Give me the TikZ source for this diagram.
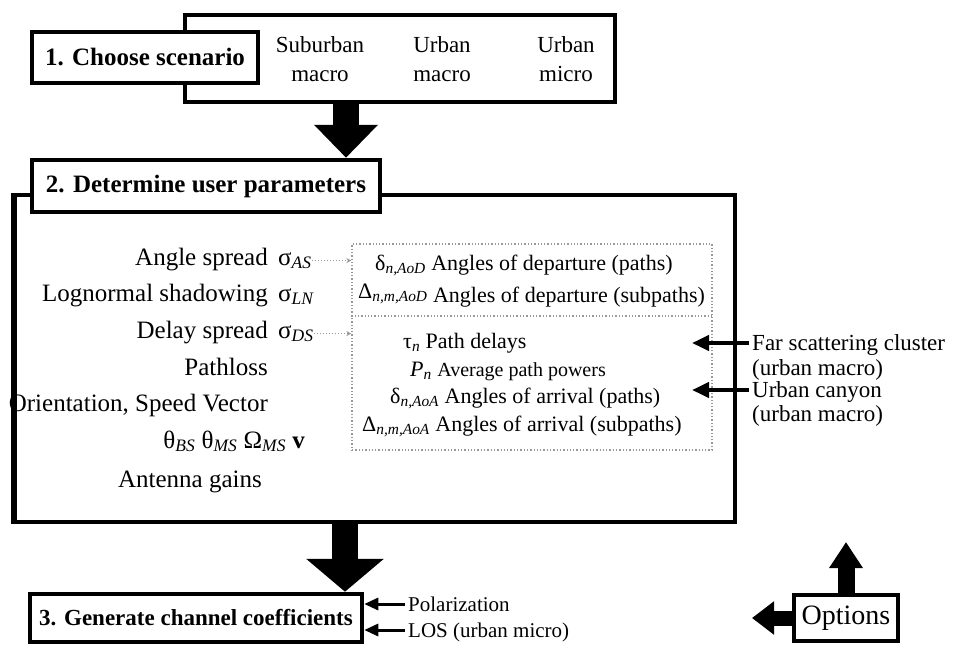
\documentclass[tikz,border=0pt]{standalone}
\usepackage{fontspec}
\setmainfont{Liberation Serif}
\usetikzlibrary{arrows.meta}
% italic subscript after an upright symbol
\newcommand{\lsub}[1]{\textsubscript{\itshape #1}}

\begin{document}
\begin{tikzpicture}[x=1pt,y=-1pt,
  frame/.style={draw, line width=4.5pt},
  tag/.style={draw, line width=4.5pt, fill=white, inner sep=0pt,
    font=\fontsize{25}{29}\selectfont\bfseries},
  txt/.style={inner sep=0pt, font=\fontsize{25}{30}\selectfont},
  scentxt/.style={inner sep=0pt, font=\fontsize{23}{29}\selectfont},
  rowtxt/.style={inner sep=0pt, font=\fontsize{22}{26}\selectfont},
  sidetxt/.style={inner sep=0pt, font=\fontsize{23}{25}\selectfont},
  foottxt/.style={inner sep=0pt, font=\fontsize{21}{24}\selectfont},
  guide/.style={draw=gray!80, dotted, line width=1.3pt},
  hint/.style={gray!80, dotted, line width=1pt, -{Stealth[length=5pt,width=5pt]}},
  sidearrow/.style={line width=4pt, -{Triangle[width=15pt,length=17pt]}},
  minorarrow/.style={line width=3pt, -{Triangle[width=12pt,length=14pt]}},
  bigdown/.style={line width=26pt, -{Triangle[width=62pt,length=33pt]}},
  bigdownwide/.style={line width=26pt, -{Triangle[width=76pt,length=33pt]}},
]
\useasboundingbox (0,0) rectangle (957,648);

% ---- step 1: scenario selection
\node[frame, minimum width=430pt, minimum height=87pt] (scen) at (400,58.5) {};
\node[tag, minimum width=226pt, minimum height=51pt] (s1) at (145,57.5) {1. Choose scenario};
\node[scentxt, align=center] (sub) at (320,59) {Suburban\\macro};
\node[scentxt, align=center] (umac) at (442,59) {Urban\\macro};
\node[scentxt, align=center] (umic) at (566,59) {Urban\\micro};

% ---- step 2: user parameters
\node[frame, minimum width=720pt, minimum height=327pt] (params) at (375,358.5) {};

\node[txt, anchor=base east] (angle) at (268,265) {Angle spread};
\node[txt, anchor=base east] (logn)  at (268,301) {Lognormal shadowing};
\node[txt, anchor=base east] (delay) at (268,338) {Delay spread};
\node[txt, anchor=base east] (ploss) at (268,375) {Pathloss};
\node[txt, anchor=base east] (orient) at (268,411) {Orientation, Speed Vector};
\node[txt, anchor=base east] (theta) at (305,448) {θ\lsub{BS} θ\lsub{MS} Ω\lsub{MS} \textbf{v}};
\node[txt, anchor=base east] (gains) at (262,487) {Antenna gains};

\node[txt, anchor=base west] (sAS) at (278,265) {σ\lsub{AS}};
\node[txt, anchor=base west] (sLN) at (278,301) {σ\lsub{LN}};
\node[txt, anchor=base west] (sDS) at (278,338) {σ\lsub{DS}};

% redraw left border over the clipped label
\draw[line width=4.5pt] (params.north west) -- (params.south west);

% derived large-scale quantities
\node[guide, minimum width=360pt, minimum height=206pt] (derived) at (532,347) {};
\coordinate (divide) at (0,316);
\draw[guide] (derived.west |- divide) -- (derived.east |- divide);

\node[rowtxt, anchor=base west] (aod)  at (375,270) {δ\lsub{n,AoD} Angles of departure (paths)};
\node[rowtxt, anchor=base west] (aods) at (358,298) {Δ\lsub{n,m,AoD} \raisebox{-4pt}{Angles of departure (subpaths)}};
\node[rowtxt, anchor=base west] (tau)  at (403,348) {τ\lsub{n} Path delays};
\node[rowtxt, anchor=base west] (pow)  at (410,376) {\textit{P}\lsub{n} {\fontsize{20}{24}\selectfont Average path powers}};
\node[rowtxt, anchor=base west] (aoa)  at (390,403) {δ\lsub{n,AoA} Angles of arrival (paths)};
\node[rowtxt, anchor=base west] (aoas) at (362,431) {Δ\lsub{n,m,AoA} Angles of arrival (subpaths)};

\draw[hint] (sAS.east) -- (derived.west |- sAS.east);
\draw[hint] (sDS.east) -- (derived.west |- sDS.east);

% tag drawn last so it covers the frame
\node[tag, minimum width=348pt, minimum height=52pt] (s2) at (206,186) {2. Determine user parameters};

% external effects on the derived quantities
\node[sidetxt, anchor=base west] (far)  at (752,350) {Far scattering cluster};
\node[sidetxt, anchor=base west] (farm) at (752,375) {(urban macro)};
\node[sidetxt, anchor=base west] (cany) at (752,397) {Urban canyon};
\node[sidetxt, anchor=base west] (canm) at (752,421) {(urban macro)};
\coordinate (farTip) at (692,343);
\coordinate (canTip) at (692,390);
\draw[sidearrow] ([xshift=-3pt]far.west |- farTip) -- (farTip);
\draw[sidearrow] ([xshift=-3pt]cany.west |- canTip) -- (canTip);

% ---- step 3: channel coefficients
\node[tag, font=\fontsize{23}{27}\selectfont\bfseries, minimum width=332pt, minimum height=48pt] (s3) at (196,618) {3. Generate channel coefficients};
\node[foottxt, anchor=base west] (pol) at (408,611) {Polarization};
\node[foottxt, anchor=base west] (los) at (408,637) {LOS (urban micro)};
\coordinate (polY) at (0,604);
\coordinate (losY) at (0,630);
\draw[minorarrow] ([xshift=-3pt]pol.west |- polY) -- (s3.east |- polY);
\draw[minorarrow] ([xshift=-3pt]los.west |- losY) -- (s3.east |- losY);

% options
\node[draw, line width=4pt, fill=white, inner sep=0pt, minimum width=104pt, minimum height=46pt,
  font=\fontsize{28}{32}\selectfont] (opt) at (846,618) {Options};
\coordinate (optUp) at (846,542);
\coordinate (optLeft) at (752,618);
\draw[line width=17pt, -{Triangle[width=32pt,length=26pt]}] (opt.north -| optUp) -- (optUp);
\draw[line width=15pt, -{Triangle[width=32pt,length=22pt]}] (opt.west) -- (optLeft);

% ---- flow between the steps
\coordinate (a12) at (346,0);
\coordinate (a23) at (345,0);
\draw[bigdown] (scen.south -| a12) -- (s2.north -| a12);
\draw[bigdownwide] (params.south -| a23) -- (s3.north -| a23);
\end{tikzpicture}
\end{document}
